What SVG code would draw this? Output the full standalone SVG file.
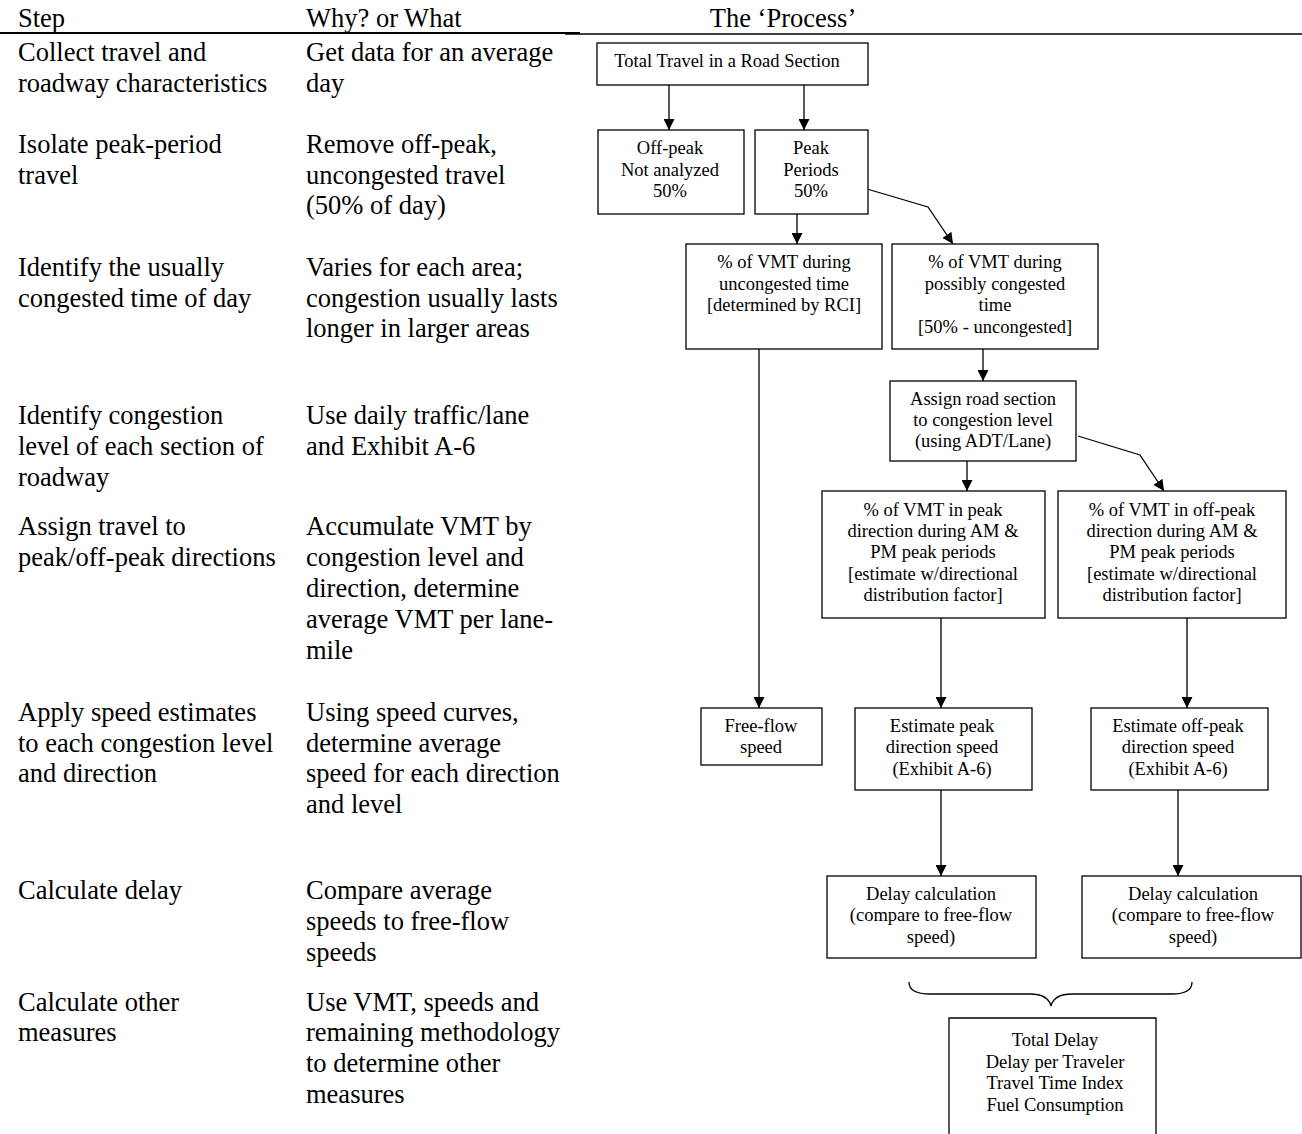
<svg xmlns="http://www.w3.org/2000/svg" width="1302" height="1134" viewBox="0 0 1302 1134">
<defs>
<style>
.h{font-family:"Liberation Serif","Times New Roman",serif;font-size:26.5px;fill:#000}
.t{font-family:"Liberation Serif","Times New Roman",serif;font-size:26.5px;fill:#000}
.b{font-family:"Liberation Serif","Times New Roman",serif;font-size:18.5px;fill:#000;text-anchor:middle}
.box{fill:#fff;stroke:#000;stroke-width:1.3}
.c{fill:none;stroke:#000;stroke-width:1.3}
</style>
<marker id="ar" viewBox="0 0 10 10" refX="10" refY="5" markerWidth="11" markerHeight="11" markerUnits="userSpaceOnUse" orient="auto">
<path d="M0,0 L10,5 L0,10 z" fill="#000"/>
</marker>
</defs>
<rect width="1302" height="1134" fill="#fff"/>

<g id="header">
<text class="h" x="18" y="27">Step</text>
<text class="h" x="306" y="27">Why? or What</text>
<text class="h" x="783" y="27" text-anchor="middle">The ‘Process’</text>
<line x1="0" y1="33" x2="580" y2="33" stroke="#000" stroke-width="2"/>
<line x1="565" y1="34" x2="1302" y2="34" stroke="#000" stroke-width="1.5"/>
</g>

<g id="steps">
<text class="t"><tspan x="18" y="61">Collect travel and</tspan><tspan x="18" y="92">roadway characteristics</tspan></text>
<text class="t"><tspan x="306" y="61">Get data for an average</tspan><tspan x="306" y="92">day</tspan></text>
<text class="t"><tspan x="18" y="153">Isolate peak-period</tspan><tspan x="18" y="184">travel</tspan></text>
<text class="t"><tspan x="306" y="153">Remove off-peak,</tspan><tspan x="306" y="184">uncongested travel</tspan><tspan x="306" y="214">(50% of day)</tspan></text>
<text class="t"><tspan x="18" y="276">Identify the usually</tspan><tspan x="18" y="307">congested time of day</tspan></text>
<text class="t"><tspan x="306" y="276">Varies for each area;</tspan><tspan x="306" y="307">congestion usually lasts</tspan><tspan x="306" y="337">longer in larger areas</tspan></text>
<text class="t"><tspan x="18" y="424">Identify congestion</tspan><tspan x="18" y="455">level of each section of</tspan><tspan x="18" y="486">roadway</tspan></text>
<text class="t"><tspan x="306" y="424">Use daily traffic/lane</tspan><tspan x="306" y="455">and Exhibit A-6</tspan></text>
<text class="t"><tspan x="18" y="535">Assign travel to</tspan><tspan x="18" y="566">peak/off-peak directions</tspan></text>
<text class="t"><tspan x="306" y="535">Accumulate VMT by</tspan><tspan x="306" y="566">congestion level and</tspan><tspan x="306" y="597">direction, determine</tspan><tspan x="306" y="628">average VMT per lane-</tspan><tspan x="306" y="659">mile</tspan></text>
<text class="t"><tspan x="18" y="721">Apply speed estimates</tspan><tspan x="18" y="752">to each congestion level</tspan><tspan x="18" y="782">and direction</tspan></text>
<text class="t"><tspan x="306" y="721">Using speed curves,</tspan><tspan x="306" y="752">determine average</tspan><tspan x="306" y="782">speed for each direction</tspan><tspan x="306" y="813">and level</tspan></text>
<text class="t"><tspan x="18" y="899">Calculate delay</tspan></text>
<text class="t"><tspan x="306" y="899">Compare average</tspan><tspan x="306" y="930">speeds to free-flow</tspan><tspan x="306" y="961">speeds</tspan></text>
<text class="t"><tspan x="18" y="1011">Calculate other</tspan><tspan x="18" y="1041">measures</tspan></text>
<text class="t"><tspan x="306" y="1011">Use VMT, speeds and</tspan><tspan x="306" y="1041">remaining methodology</tspan><tspan x="306" y="1072">to determine other</tspan><tspan x="306" y="1103">measures</tspan></text>
</g>

<g id="connectors">
<line class="c" x1="669" y1="85" x2="669" y2="130" marker-end="url(#ar)"/>
<line class="c" x1="804" y1="85" x2="804" y2="130" marker-end="url(#ar)"/>
<line class="c" x1="797" y1="214" x2="797" y2="244" marker-end="url(#ar)"/>
<polyline class="c" points="867,189 928,207 953,244" marker-end="url(#ar)"/>
<line class="c" x1="759" y1="349" x2="759" y2="708" marker-end="url(#ar)"/>
<line class="c" x1="983" y1="349" x2="983" y2="381" marker-end="url(#ar)"/>
<line class="c" x1="967" y1="461" x2="967" y2="491" marker-end="url(#ar)"/>
<polyline class="c" points="1078,436 1140,455 1164,491" marker-end="url(#ar)"/>
<line class="c" x1="941" y1="618" x2="941" y2="708" marker-end="url(#ar)"/>
<line class="c" x1="1187" y1="618" x2="1187" y2="708" marker-end="url(#ar)"/>
<line class="c" x1="941" y1="790" x2="941" y2="876" marker-end="url(#ar)"/>
<line class="c" x1="1178" y1="790" x2="1178" y2="876" marker-end="url(#ar)"/>
<path class="c" d="M909,982 Q909,994 930,994 L1030,994 Q1048,994 1051,1006 Q1054,994 1072,994 L1172,994 Q1192,994 1192,982"/>
</g>

<g id="n-total">
<rect class="box" x="597" y="43" width="271" height="42"/>
<text class="b" x="727" y="67">Total Travel in a Road Section</text>
</g>
<g id="n-offpeak">
<rect class="box" x="598" y="130" width="146" height="84"/>
<text class="b"><tspan x="670" y="154">Off-peak</tspan><tspan x="670" y="176">Not analyzed</tspan><tspan x="670" y="197">50%</tspan></text>
</g>
<g id="n-peak">
<rect class="box" x="755" y="130" width="113" height="84"/>
<text class="b"><tspan x="811" y="154">Peak</tspan><tspan x="811" y="176">Periods</tspan><tspan x="811" y="197">50%</tspan></text>
</g>
<g id="n-uncong">
<rect class="box" x="686" y="244" width="196" height="105"/>
<text class="b"><tspan x="784" y="268">% of VMT during</tspan><tspan x="784" y="290">uncongested time</tspan><tspan x="784" y="311">[determined by RCI]</tspan></text>
</g>
<g id="n-possibly">
<rect class="box" x="892" y="244" width="206" height="105"/>
<text class="b"><tspan x="995" y="268">% of VMT during</tspan><tspan x="995" y="290">possibly congested</tspan><tspan x="995" y="311">time</tspan><tspan x="995" y="333">[50% - uncongested]</tspan></text>
</g>
<g id="n-assign">
<rect class="box" x="890" y="381" width="186" height="80"/>
<text class="b"><tspan x="983" y="405">Assign road section</tspan><tspan x="983" y="426">to congestion level</tspan><tspan x="983" y="447">(using ADT/Lane)</tspan></text>
</g>
<g id="n-peakdir">
<rect class="box" x="822" y="491" width="223" height="127"/>
<text class="b"><tspan x="933" y="516">% of VMT in peak</tspan><tspan x="933" y="537">direction during AM &amp;</tspan><tspan x="933" y="558">PM peak periods</tspan><tspan x="933" y="580">[estimate w/directional</tspan><tspan x="933" y="601">distribution factor]</tspan></text>
</g>
<g id="n-offpeakdir">
<rect class="box" x="1058" y="491" width="228" height="127"/>
<text class="b"><tspan x="1172" y="516">% of VMT in off-peak</tspan><tspan x="1172" y="537">direction during AM &amp;</tspan><tspan x="1172" y="558">PM peak periods</tspan><tspan x="1172" y="580">[estimate w/directional</tspan><tspan x="1172" y="601">distribution factor]</tspan></text>
</g>
<g id="n-freeflow">
<rect class="box" x="701" y="708" width="121" height="57"/>
<text class="b"><tspan x="761" y="732">Free-flow</tspan><tspan x="761" y="753">speed</tspan></text>
</g>
<g id="n-estpeak">
<rect class="box" x="855" y="708" width="177" height="82"/>
<text class="b"><tspan x="942" y="732">Estimate peak</tspan><tspan x="942" y="753">direction speed</tspan><tspan x="942" y="775">(Exhibit A-6)</tspan></text>
</g>
<g id="n-estoff">
<rect class="box" x="1091" y="708" width="177" height="82"/>
<text class="b"><tspan x="1178" y="732">Estimate off-peak</tspan><tspan x="1178" y="753">direction speed</tspan><tspan x="1178" y="775">(Exhibit A-6)</tspan></text>
</g>
<g id="n-delay1">
<rect class="box" x="827" y="876" width="209" height="82"/>
<text class="b"><tspan x="931" y="900">Delay calculation</tspan><tspan x="931" y="921">(compare to free-flow</tspan><tspan x="931" y="943">speed)</tspan></text>
</g>
<g id="n-delay2">
<rect class="box" x="1082" y="876" width="219" height="82"/>
<text class="b"><tspan x="1193" y="900">Delay calculation</tspan><tspan x="1193" y="921">(compare to free-flow</tspan><tspan x="1193" y="943">speed)</tspan></text>
</g>
<g id="n-total-delay">
<path class="c" d="M949,1140 L949,1018 L1156,1018 L1156,1140"/>
<text class="b"><tspan x="1055" y="1046">Total Delay</tspan><tspan x="1055" y="1068">Delay per Traveler</tspan><tspan x="1055" y="1089">Travel Time Index</tspan><tspan x="1055" y="1111">Fuel Consumption</tspan></text>
</g>
</svg>
